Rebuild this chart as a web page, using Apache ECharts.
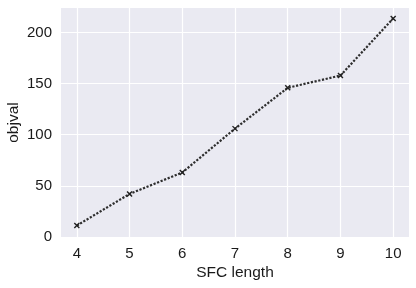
<!DOCTYPE html>
<html>
<head>
<meta charset="utf-8">
<script src="https://cdn.jsdelivr.net/npm/echarts@6/dist/echarts.min.js"></script>
<style>html,body{margin:0;padding:0;background:#fff}#c{width:416px;height:288px}</style>
</head>
<body>
<div id="c"></div>
<script>
const sfcLength = [4, 5, 6, 7, 8, 9, 10];
const objval = [11, 42, 63, 106, 146, 158, 214];
const xTicks = [4, 5, 6, 7, 8, 9, 10];
const yTicks = [0, 50, 100, 150, 200];

const chart = echarts.init(document.getElementById('c'), null, {renderer: 'canvas'});
const font = "'Liberation Sans', Arial, sans-serif";
const textColor = '#1a1a1a';
chart.setOption({
  animation: false,
  backgroundColor: '#ffffff',
  grid: {left: 61, right: 7, top: 8, bottom: 51, show: true, backgroundColor: '#EAEAF2', borderWidth: 0,
    containLabel: false, outerBoundsMode: 'none'},
  xAxis: {
    type: 'value', min: 3.7, max: 10.3, interval: 1,
    name: 'SFC length', nameLocation: 'middle', nameGap: 28, nameMoveOverlap: false,
    nameTextStyle: {fontFamily: font, fontSize: 15.5, color: textColor},
    axisLine: {show: false}, axisTick: {show: false, customValues: xTicks},
    axisLabel: {fontFamily: font, fontSize: 15, color: textColor, margin: 9,
      customValues: xTicks, formatter: v => String(v)},
    splitLine: {show: true, lineStyle: {color: '#ffffff', width: 1.2}}
  },
  yAxis: {
    type: 'value', min: -0.2, max: 224.2, interval: 50,
    name: 'objval', nameLocation: 'middle', nameGap: 39, nameMoveOverlap: false,
    nameTextStyle: {fontFamily: font, fontSize: 15.5, color: textColor},
    axisLine: {show: false}, axisTick: {show: false, customValues: yTicks},
    axisLabel: {fontFamily: font, fontSize: 15, color: textColor, margin: 9,
      customValues: yTicks, formatter: v => String(v)},
    splitLine: {show: true, lineStyle: {color: '#ffffff', width: 1.2}}
  },
  series: [{
    type: 'line',
    data: sfcLength.map((x, i) => [x, objval[i]]),
    symbol: 'path://M0,0L10,10M10,0L0,10',
    symbolSize: 5,
    showSymbol: true,
    lineStyle: {color: '#2e2e2e', width: 2.2, type: [2.2, 1.6]},
    itemStyle: {color: '#222222', borderColor: '#222222', borderWidth: 1.4}
  }]
});
</script>
</body>
</html>
